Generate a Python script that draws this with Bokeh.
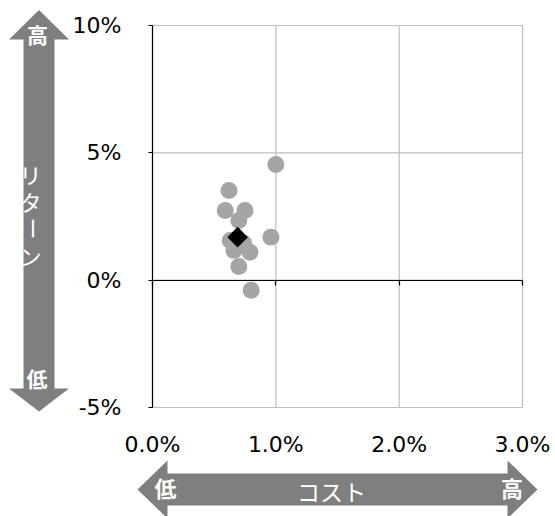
import math
from bokeh.plotting import figure
from bokeh.models import Range1d, FixedTicker, PrintfTickFormatter, LinearAxis
from bokeh.core.properties import value
from bokeh.embed import file_html
from bokeh.resources import INLINE

# ---- data (percent) ----
cost = [1.00, 0.62, 0.59, 0.75, 0.70, 0.96, 0.63, 0.66, 0.79, 0.74, 0.70, 0.80]
ret = [4.54, 3.52, 2.74, 2.74, 2.34, 1.69, 1.56, 1.17, 1.10, 1.44, 0.54, -0.40]
avg_cost = [0.69]
avg_ret = [1.69]
x_ticks = [0, 1, 2, 3]
y_ticks = [-5, 0, 5, 10]

ARROW = "#7f7f7f"
GRID = "#bfbfbf"
POINT = "#a5a5a5"
JP = "Noto Sans CJK JP"
TICK_FONT = "DejaVu Sans"
TICK_SIZE = "22px"

# ---- canvas / plot-area geometry (pixels) ----
W, H = 555, 516
PL, PR, PT, PB = 152, 522, 25, 407          # plot area edges
kx = (PR - PL) / (x_ticks[-1] - x_ticks[0])  # px per 1% cost
ky = (PB - PT) / (y_ticks[-1] - y_ticks[0])  # px per 1% return
x0px = PL - x_ticks[0] * kx
y0px = PT + y_ticks[-1] * ky

def dx(px):
    return (px - x0px) / kx

def dy(py):
    return (y0px - py) / ky

p = figure(width=W, height=H, output_backend="svg", toolbar_location=None,
           x_range=Range1d(dx(0), dx(W)), y_range=Range1d(dy(H), dy(0)),
           x_axis_location=None, y_axis_location=None, min_border=0)
p.outline_line_color = None
p.grid.visible = False

# ---- gridlines ----
xmin, xmax = x_ticks[0], x_ticks[-1]
ymin, ymax = y_ticks[0], y_ticks[-1]
p.segment(x0=x_ticks, y0=[ymin] * len(x_ticks), x1=x_ticks, y1=[ymax] * len(x_ticks),
          line_color=GRID, line_width=1.2)
p.segment(x0=[xmin] * len(y_ticks), y0=y_ticks, x1=[xmax] * len(y_ticks), y1=y_ticks,
          line_color=GRID, line_width=1.2)

# ---- axes (drawn at fixed locations) ----
yax = LinearAxis(fixed_location=0, bounds=(ymin, ymax),
                 ticker=FixedTicker(ticks=y_ticks),
                 formatter=PrintfTickFormatter(format="%d%%"))
yax.axis_line_color = "black"
yax.axis_line_width = 1.2
yax.major_tick_line_color = "black"
yax.major_tick_line_width = 1.2
yax.major_tick_in = 0
yax.major_tick_out = 4
yax.minor_tick_line_color = None
yax.major_label_standoff = 27
yax.major_label_text_font = TICK_FONT
yax.major_label_text_font_size = TICK_SIZE
yax.major_label_text_color = "black"
p.add_layout(yax, "left")

xlab = LinearAxis(fixed_location=ymin, bounds=(xmin, xmax),
                  ticker=FixedTicker(ticks=x_ticks),
                  formatter=PrintfTickFormatter(format="%.1f%%"))
xlab.axis_line_color = None
xlab.major_tick_line_color = None
xlab.minor_tick_line_color = None
xlab.major_label_standoff = 18
xlab.major_label_text_font = TICK_FONT
xlab.major_label_text_font_size = TICK_SIZE
xlab.major_label_text_color = "black"
p.add_layout(xlab, "below")

xzero = LinearAxis(fixed_location=0, bounds=(xmin, xmax),
                   ticker=FixedTicker(ticks=x_ticks))
xzero.axis_line_color = "black"
xzero.axis_line_width = 1.2
xzero.major_tick_line_color = "black"
xzero.major_tick_line_width = 1.2
xzero.major_tick_in = 0
xzero.major_tick_out = 5
xzero.minor_tick_line_color = None
xzero.major_label_text_color = None
p.add_layout(xzero, "below")

# ---- points ----
p.scatter(cost, ret, size=17, color=POINT, line_color=None)
p.scatter(avg_cost, avg_ret, marker="square", angle=math.pi / 4, size=14.5,
          color="black", line_color=None)

# ---- decorative arrows (pixel geometry converted to data space) ----
cx, sh, hh = 38.5, 15.5, 30
tt, tb, bb, bt = 9.5, 39, 388, 411
vx = [cx, cx + hh, cx + sh, cx + sh, cx + hh, cx, cx - hh, cx - sh, cx - sh, cx - hh]
vy = [tt, tb, tb, bb, bb, bt, bb, bb, tb, tb]
p.patch([dx(v) for v in vx], [dy(v) for v in vy], color=ARROW, line_color=None)

cy, hsh, hhh = 489, 16, 29
lt, lb, rb, rt = 137, 167, 507, 537
hx = [lt, lb, lb, rb, rb, rt, rb, rb, lb, lb]
hy = [cy, cy - hhh, cy - hsh, cy - hsh, cy - hhh, cy, cy + hhh, cy + hsh, cy + hsh, cy + hhh]
p.patch([dx(v) for v in hx], [dy(v) for v in hy], color=ARROW, line_color=None)

def lab(xs, ys, texts, size, bold=False, angles=None):
    p.text(x=[dx(v) for v in xs], y=[dy(v) for v in ys], text=texts,
           angle=angles if angles is not None else [0] * len(texts),
           text_color="white", text_font=value(JP), text_font_size=size,
           text_font_style="bold" if bold else "normal",
           text_align="center", text_baseline="middle")

lab([37, 36.5], [33, 377.5], ["高", "低"], "21px", True)
lab([30, 30, 30, 30], [173, 200, 228, 254], ["リ", "タ", "ー", "ン"], "22px",
    angles=[0, 0, math.pi / 2, 0])
lab([165, 511.5], [486.5, 486.5], ["低", "高"], "22px", True)
lab([331], [490], ["コスト"], "23px")

open("out.html", "w").write(file_html(p, INLINE))
